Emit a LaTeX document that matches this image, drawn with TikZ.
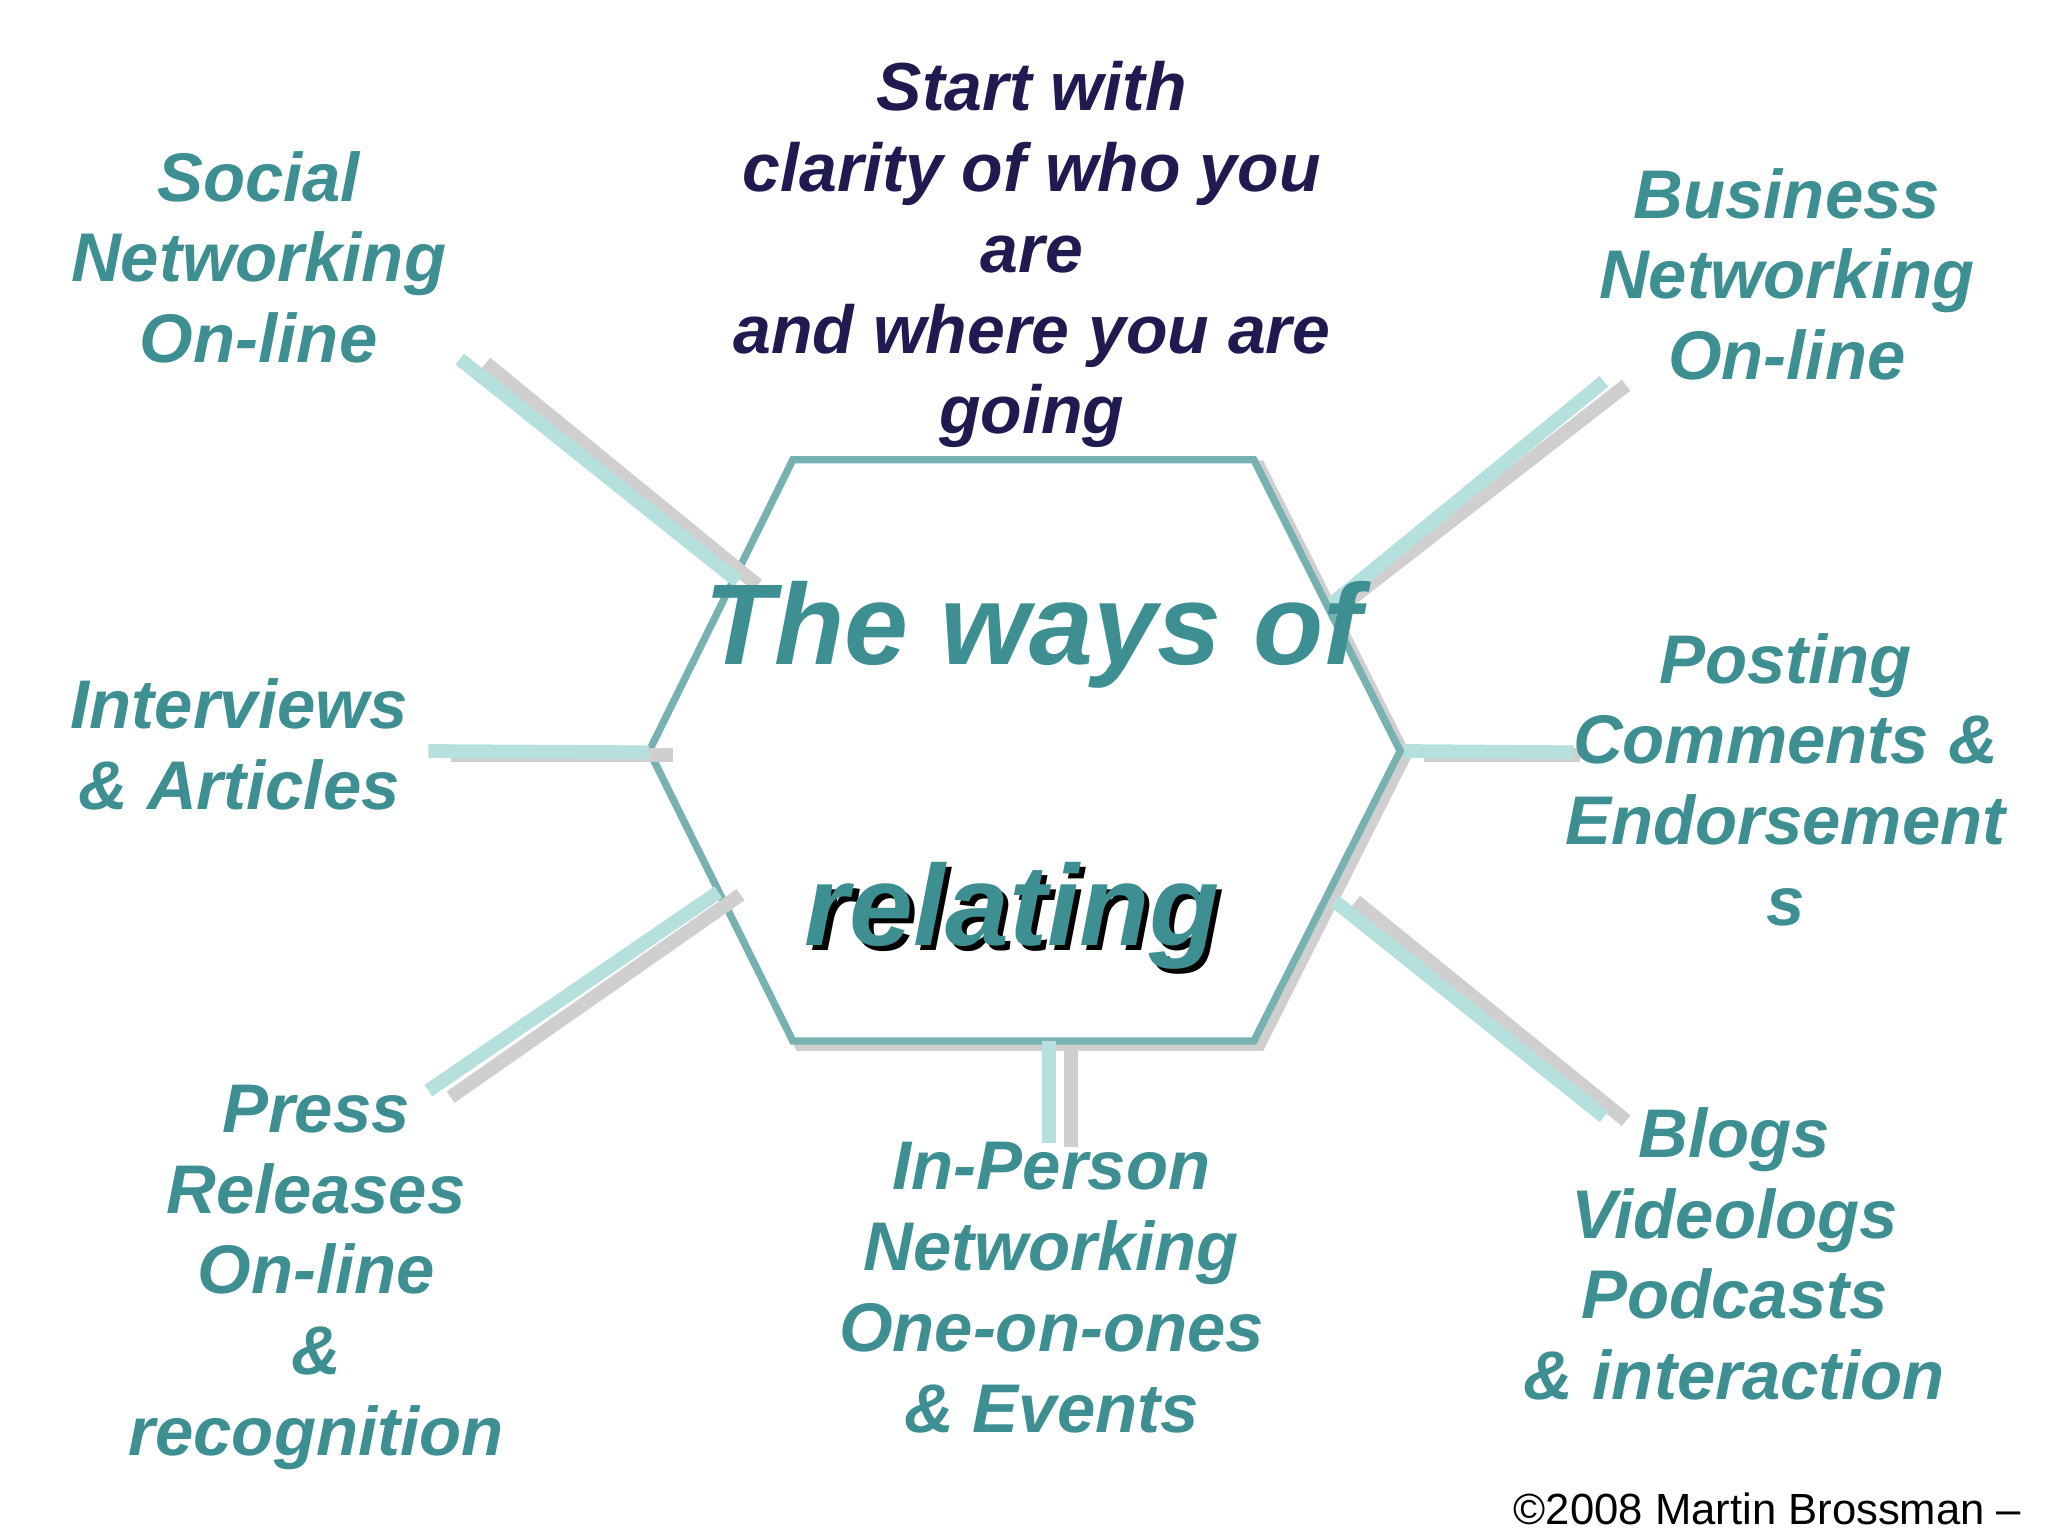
\documentclass[tikz,border=0pt]{standalone}
\usepackage{fontspec}
\setmainfont{Liberation Sans}
\definecolor{teal1}{HTML}{3D8F91}
\definecolor{navy1}{HTML}{1F1A4F}
\definecolor{lteal}{HTML}{B5E0DE}
\definecolor{lgray}{HTML}{CFCFCF}
\begin{document}
\begin{tikzpicture}[x=0.01cm,y=-0.01cm,
  lab/.style={text=teal1,font=\fontsize{15}{17.6}\selectfont\bfseries\itshape,align=center},
  tl/.style={lteal,line width=3pt},
  gl/.style={lgray,line width=3pt},
  big/.style={font=\fontsize{25}{30}\selectfont\bfseries\itshape}]
\useasboundingbox (0,0) rectangle (1568,1176);
% hexagon shadow and outline
\draw[lgray,line width=2pt] (612,356)--(965,356)--(1077,579)--(965,801)--(612,801)--(502,579)--cycle;
\draw[teal1!70,line width=1.6pt,fill=white] (607,352)--(960,352)--(1072,575)--(960,797)--(607,797)--(497,575)--cycle;
% connectors
\coordinate (h1) at (565,445); \coordinate (h1g) at (580,448);
\coordinate (s1) at (352,275); \coordinate (s1g) at (372,278);
\draw[gl] (s1g)--(h1g); \draw[tl] (s1)--(h1);
\coordinate (b1) at (1228,292); \coordinate (b2) at (1020,462);
\coordinate (b1g) at (1245,295); \coordinate (b2g) at (1030,462);
\draw[gl] (b1g)--(b2g); \draw[tl] (b1)--(b2);
\coordinate (i1) at (328,575); \coordinate (i2) at (497,576);
\coordinate (i1g) at (345,578); \coordinate (i2g) at (515,578);
\draw[gl] (i1g)--(i2g); \draw[tl] (i1)--(i2);
\coordinate (p1) at (1075,575); \coordinate (p2) at (1205,576);
\coordinate (p1g) at (1090,578); \coordinate (p2g) at (1210,578);
\draw[gl] (p1g)--(p2g); \draw[tl] (p1)--(p2);
\coordinate (r1) at (328,835); \coordinate (r2) at (550,683);
\coordinate (r1g) at (345,840); \coordinate (r2g) at (567,685);
\draw[gl] (r1g)--(r2g); \draw[tl] (r1)--(r2);
\coordinate (n1) at (803,797); \coordinate (n2) at (803,875);
\coordinate (n1g) at (820,800); \coordinate (n2g) at (820,878);
\draw[gl] (n1g)--(n2g); \draw[tl] (n1)--(n2);
\coordinate (g1) at (1022,690); \coordinate (g2) at (1228,855);
\coordinate (g1g) at (1038,690); \coordinate (g2g) at (1245,858);
\draw[gl] (g1g)--(g2g); \draw[tl] (g1)--(g2);
% title
\node[text=navy1,font=\fontsize{14.8}{17.6}\selectfont\bfseries\itshape,align=center] (top) at (790,195) {Start with\\clarity of who you\\are\\and where you are\\going};
\node[big,text=teal1] (t1) at (791,486) {The ways of};
\node[big,text=black] at (779,705) {relating};
\node[big,text=teal1] (t2) at (775,701) {relating};
% labels
\node[lab] (soc) at (198,197) {Social\\Networking\\On-line};
\node[lab] (bus) at (1368,210) {Business\\Networking\\On-line};
\node[lab] (int) at (183,570) {Interviews\\\& Articles};
\node[lab] (pos) at (1367,597) {Posting\\Comments \&\\Endorsement\\s};
\node[lab] (pre) at (242,978) {Press\\Releases\\On-line\\\&\\recognition};
\node[lab] (inp) at (805,986) {In-Person\\Networking\\One-on-ones\\\& Events};
\node[lab] (blo) at (1328,960) {Blogs\\Videologs\\Podcasts\\\& interaction};
\node[anchor=east,font=\fontsize{9.5}{11}\selectfont] (cp) at (1560,1155) {©2008 Martin Brossman –};
\end{tikzpicture}
\end{document}
